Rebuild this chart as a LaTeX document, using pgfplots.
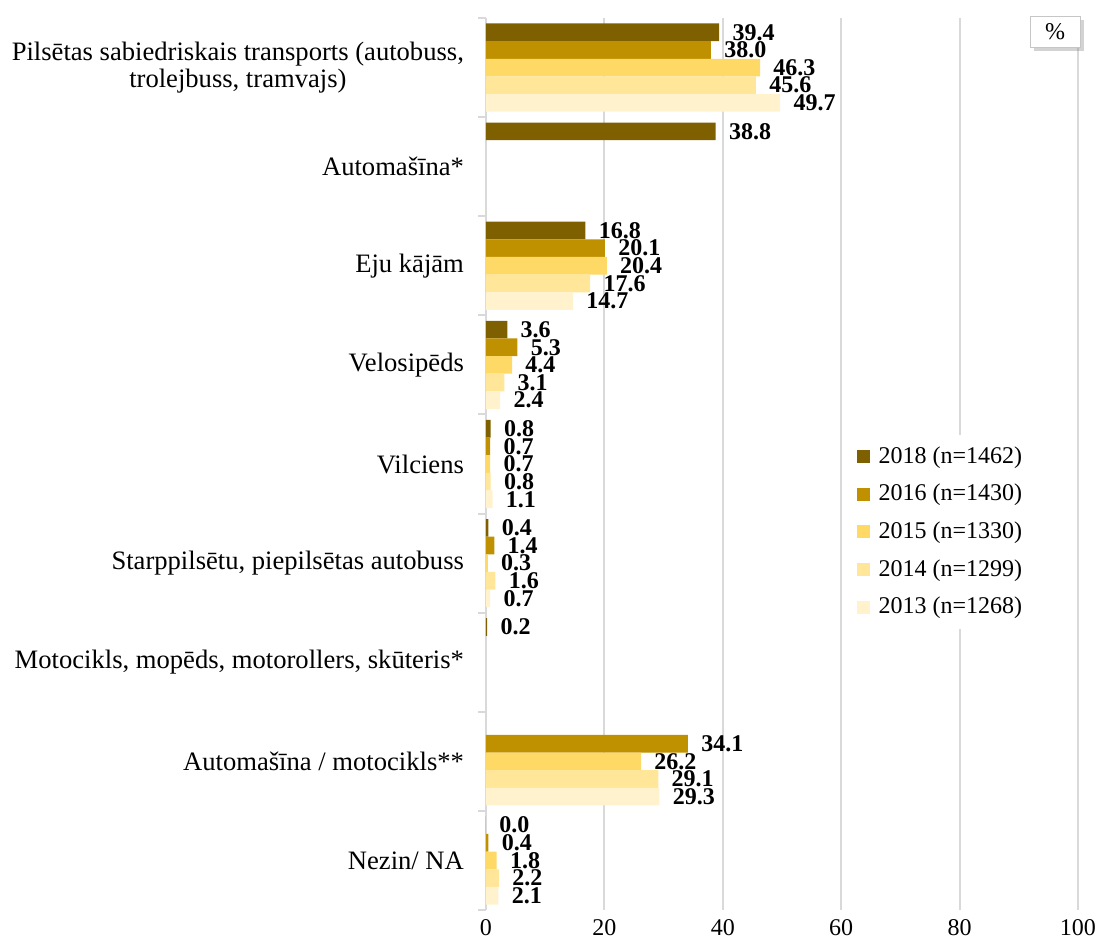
\documentclass[border=0pt]{standalone}
\usepackage{pgfplots}
\pgfplotsset{compat=1.18}
\usepackage{fontspec}
\setmainfont{Liberation Serif}
\usetikzlibrary{shadows}
\definecolor{c18}{HTML}{7F6000}
\definecolor{c16}{HTML}{BF9000}
\definecolor{c15}{HTML}{FFD966}
\definecolor{c14}{HTML}{FFE699}
\definecolor{c13}{HTML}{FFF2CC}
\definecolor{gridc}{HTML}{D9D9D9}
\begin{document}
\begin{tikzpicture}
\useasboundingbox (-243pt,-16.5pt) rectangle (307pt,455pt);
\begin{axis}[
  at={(0,0)}, anchor=south west,
  scale only axis, width=296pt, height=446pt,
  xbar=0pt, bar width=0.178,
  xmin=0, xmax=100, ymin=-0.5, ymax=8.5, y dir=reverse,
  xtick={0,20,...,100},
  ytick={0,...,8},
  yticklabels={{Pilsētas sabiedriskais transports (autobuss,\\trolejbuss, tramvajs)},
    {Automašīna*},{Eju kājām},{Velosipēds},{Vilciens},
    {Starppilsētu, piepilsētas autobuss},
    {Motocikls, mopēds, motorollers, skūteris*},
    {Automašīna / motocikls**},{Nezin/ NA}},
  minor ytick={-0.5,0.5,...,8.5},
  major tick length=0pt, minor tick length=4pt, tick align=outside,
  minor tick style={gridc, line width=1pt},
  axis lines*=left,
  x axis line style={draw=none},
  y axis line style={gridc, line width=1pt},
  xmajorgrids, major grid style={gridc, line width=1pt},
  yticklabel style={font=\fontsize{13.3}{13.5}\selectfont, align=center, xshift=-7.5pt},
  xticklabel style={font=\fontsize{12}{12}\selectfont, yshift=-1pt},
  /pgf/number format/assume math mode=true,
  nodes near coords,
  point meta=x,
  nodes near coords style={font=\fontsize{12}{12}\selectfont\bfseries, anchor=west, inner sep=0pt, xshift=6.5pt,
    /pgf/number format/.cd, fixed, fixed zerofill, precision=1, assume math mode=true},
  legend cell align=left,
  legend image code/.code={\fill[#1] (0pt,-3.2pt) rectangle (6.5pt,3.3pt);},
  legend style={at={(rel axis cs:0.612,0.424)}, anchor=west, draw=none, fill=white,
    font=\fontsize{12}{12}\selectfont, row sep=5pt, inner sep=4pt,
    /tikz/every odd column/.append style={column sep=2.5pt}},
]
\addplot[fill=c18, draw=none] coordinates {(39.4,0) (38.8,1) (16.8,2) (3.6,3) (0.8,4) (0.4,5) (0.2,6) (0.0,8)};
\addplot[fill=c16, draw=none] coordinates {(38.0,0) (20.1,2) (5.3,3) (0.7,4) (1.4,5) (34.1,7) (0.4,8)};
\addplot[fill=c15, draw=none] coordinates {(46.3,0) (20.4,2) (4.4,3) (0.7,4) (0.3,5) (26.2,7) (1.8,8)};
\addplot[fill=c14, draw=none] coordinates {(45.6,0) (17.6,2) (3.1,3) (0.8,4) (1.6,5) (29.1,7) (2.2,8)};
\addplot[fill=c13, draw=none] coordinates {(49.7,0) (14.7,2) (2.4,3) (1.1,4) (0.7,5) (29.3,7) (2.1,8)};
\legend{2018 (n=1462),2016 (n=1430),2015 (n=1330),2014 (n=1299),2013 (n=1268)}
\end{axis}
\node[draw=gray!45, fill=white, drop shadow={shadow xshift=2pt, shadow yshift=-2pt, opacity=0.35},
  minimum width=25pt, minimum height=15.5pt, inner sep=0pt, font=\fontsize{12}{12}\selectfont] at (284.5pt,439pt) {\%};
\end{tikzpicture}
\end{document}
